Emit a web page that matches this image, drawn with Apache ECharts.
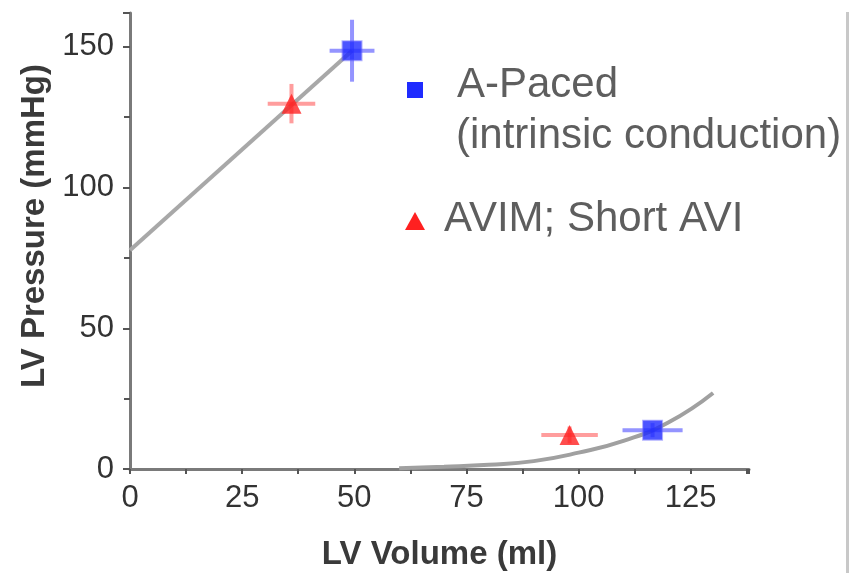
<!DOCTYPE html>
<html>
<head>
<meta charset="utf-8">
<script src="https://cdn.jsdelivr.net/npm/echarts@6/dist/echarts.min.js"></script>
<style>
  html, body { margin: 0; padding: 0; background: #fff; }
  #chart { width: 851px; height: 573px; }
</style>
</head>
<body>
<div id="chart"></div>
<script>
// A-Paced (intrinsic conduction): volume, pressure, errors
const aPacedVolume = [49.5, 116.5];
const aPacedPressure = [148.6, 13.8];
const aPacedVolumeErr = [5, 6.7];
const aPacedPressureErr = [11, 2.5];

// AVIM; Short AVI
const avimVolume = [36, 98];
const avimPressure = [129.8, 12.1];
const avimVolumeErr = [5.3, 6.3];
const avimPressureErr = [7, 3];

// fitted relations
const espvrVolume = [0, 49.5];
const espvrPressure = [77.7, 148.6];
const edpvrVolume = [60, 70, 80, 90, 100, 110, 120, 130];
const edpvrPressure = [0.3, 0.8, 1.5, 2.8, 5.8, 10, 16.5, 27];

const xTicks = [0, 25, 50, 75, 100, 125];
const yTicks = [0, 50, 100, 150];

const zip = (a, b) => a.map((v, i) => [v, b[i]]);
const withErr = (x, y, ex, ey) => x.map((v, i) => [v, y[i], ex[i], ey[i]]);

const errorBars = (color) => function (params, api) {
  const x = api.value(0), y = api.value(1);
  const ex = api.value(2), ey = api.value(3);
  const l = api.coord([x - ex, y]);
  const r = api.coord([x + ex, y]);
  const t = api.coord([x, y + ey]);
  const b = api.coord([x, y - ey]);
  const style = { stroke: color, lineWidth: 4 };
  return {
    type: 'group',
    children: [
      { type: 'line', shape: { x1: l[0], y1: l[1], x2: r[0], y2: r[1] }, style: style },
      { type: 'line', shape: { x1: t[0], y1: t[1], x2: b[0], y2: b[1] }, style: style }
    ]
  };
};

const dom = document.getElementById('chart');
const myChart = echarts.init(dom);

const axisColor = '#7a7a7a';
const legendText = { fontFamily: 'Liberation Sans, Arial', fontSize: 42, fill: '#5e5e5e' };

var option = {
  backgroundColor: '#ffffff',
  animation: false,
  grid: { left: 130, right: 102, top: 13, bottom: 104, outerBoundsMode: 'none', containLabel: false },
  xAxis: {
    type: 'value',
    min: 0,
    max: 138,
    interval: 25,
    name: 'LV Volume (ml)',
    nameLocation: 'middle',
    nameGap: 69,
    nameTextStyle: { fontFamily: 'Liberation Sans, Arial', fontSize: 33, fontWeight: 'bold', color: '#3a3a3a' },
    splitLine: { show: false },
    axisLine: { lineStyle: { color: axisColor, width: 3 } },
    axisTick: { length: 5, lineStyle: { color: '#555', width: 2 } },
    minorTick: { show: true, splitNumber: 2, length: 5, lineStyle: { color: '#555', width: 2 } },
    axisLabel: {
      showMaxLabel: false,
      margin: 14,
      fontFamily: 'Liberation Sans, Arial',
      fontSize: 31,
      color: '#333',
      formatter: (v) => xTicks.includes(v) ? String(v) : ''
    }
  },
  yAxis: {
    type: 'value',
    min: 0,
    max: 162,
    interval: 50,
    name: 'LV Pressure (mmHg)',
    nameLocation: 'middle',
    nameGap: 76,
    nameTextStyle: { fontFamily: 'Liberation Sans, Arial', fontSize: 33, fontWeight: 'bold', color: '#3a3a3a', padding: [0, 0, 0, 30] },
    splitLine: { show: false },
    axisLine: { lineStyle: { color: axisColor, width: 3 } },
    axisTick: { length: 7, lineStyle: { color: '#555', width: 2 } },
    minorTick: { show: true, splitNumber: 2, length: 6, lineStyle: { color: '#555', width: 2 } },
    axisLabel: {
      showMaxLabel: false,
      margin: 16,
      fontFamily: 'Liberation Sans, Arial',
      fontSize: 31,
      color: '#333',
      formatter: (v) => yTicks.includes(v) ? String(v) : ''
    }
  },
  series: [
    {
      name: 'ESPVR',
      type: 'line',
      data: zip(espvrVolume, espvrPressure),
      showSymbol: false,
      lineStyle: { color: '#a8a8a8', width: 4 },
      z: 1
    },
    {
      name: 'EDPVR',
      type: 'line',
      smooth: true,
      data: zip(edpvrVolume, edpvrPressure),
      showSymbol: false,
      lineStyle: { color: '#a0a0a0', width: 4 },
      z: 1
    },
    {
      name: 'A-Paced err',
      type: 'custom',
      renderItem: errorBars('rgba(60,60,255,0.55)'),
      data: withErr(aPacedVolume, aPacedPressure, aPacedVolumeErr, aPacedPressureErr),
      z: 2
    },
    {
      name: 'AVIM err',
      type: 'custom',
      renderItem: errorBars('rgba(255,60,60,0.5)'),
      data: withErr(avimVolume, avimPressure, avimVolumeErr, avimPressureErr),
      z: 2
    },
    {
      name: 'A-Paced',
      type: 'scatter',
      symbol: 'rect',
      symbolSize: 19,
      data: zip(aPacedVolume, aPacedPressure),
      itemStyle: { color: '#1f2bff', borderColor: 'rgba(90,90,255,0.6)', borderWidth: 2 },
      z: 3
    },
    {
      name: 'AVIM; Short AVI',
      type: 'scatter',
      symbol: 'triangle',
      symbolSize: 20,
      data: zip(avimVolume, avimPressure),
      itemStyle: { color: '#ff2020' },
      z: 3
    }
  ],
  graphic: [
    { type: 'rect', shape: { x: 415 - 8, y: 90 - 8, width: 16, height: 16 }, style: { fill: '#1f2bff' } },
    { type: 'text', left: 457, top: 64, style: Object.assign({ text: 'A-Paced' }, legendText) },
    { type: 'text', left: 456, top: 115, style: Object.assign({ text: '(intrinsic conduction)' }, legendText) },
    { type: 'polygon', shape: { points: [[415, 212], [405, 230], [425, 230]] }, style: { fill: '#ff2020' } },
    { type: 'text', left: 444, top: 198, style: Object.assign({ text: 'AVIM; Short AVI' }, legendText) },
    { type: 'rect', shape: { x: 846, y: 12, width: 3, height: 561 }, style: { fill: '#c8c8c8' } }
  ]
};

myChart.setOption(option);
</script>
</body>
</html>
